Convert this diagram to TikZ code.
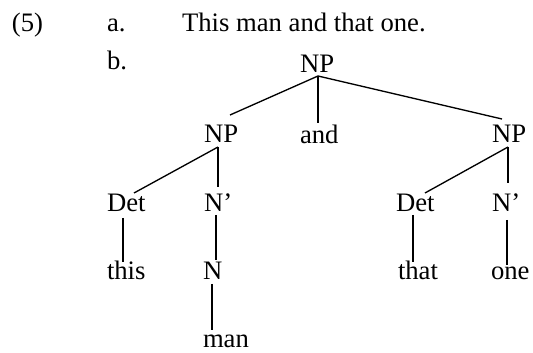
\documentclass[tikz,border=0pt]{standalone}
\usepackage{fontspec}
\setmainfont{Liberation Serif}
\usetikzlibrary{calc}
\tikzset{
  lbl/.style={anchor=base west, inner sep=0pt, outer sep=0pt, font=\fontsize{20}{24}\selectfont},
  branch/.style={line width=1pt, line cap=butt}
}
\begin{document}
\begin{tikzpicture}[x=0.75pt, y=-0.75pt]
\useasboundingbox (0,0) rectangle (533,353);
% labels
\node[lbl] (ex) at (12,32) {(5)};
\node[lbl] (la) at (107,32) {a.};
\node[lbl] (sent) at (182,32) {This man and that one.};
\node[lbl] (lb) at (107,70) {b.};
% tree
\node[lbl] (np0) at (300,73) {NP};
\node[lbl] (npl) at (204,143) {NP};
\node[lbl] (andn) at (300,144) {and};
\node[lbl] (npr) at (492,143) {NP};
\node[lbl] (detl) at (107,212) {Det};
\node[lbl] (nbl) at (204,212) {N’};
\node[lbl] (detr) at (396,212) {Det};
\node[lbl] (nbr) at (492,212) {N’};
\node[lbl] (this) at (107,280) {this};
\node[lbl] (nl) at (203,280) {N};
\node[lbl] (that) at (398,280) {that};
\node[lbl] (one) at (491,280) {one};
\node[lbl] (man) at (203,348) {man};
% branches
\draw[branch] ($(np0.base west)+(18,3)$) -- ($(npl.base west)+(26,-28)$);
\draw[branch] ($(np0.base west)+(18,3)$) -- ($(andn.base west)+(18,-21)$);
\draw[branch] ($(np0.base west)+(18,3)$) -- ($(npr.base west)+(10,-24)$);
\draw[branch] ($(npl.base west)+(14,4)$) -- ($(detl.base west)+(27,-19)$);
\draw[branch] ($(npl.base west)+(14,4)$) -- ($(nbl.base west)+(14,-25)$);
\draw[branch] ($(npr.base west)+(16,4)$) -- ($(detr.base west)+(29,-19)$);
\draw[branch] ($(npr.base west)+(16,4)$) -- ($(nbr.base west)+(16,-29)$);
\draw[branch] ($(detl.base west)+(16,6)$) -- ($(this.base west)+(16,-18)$);
\draw[branch] ($(nbl.base west)+(12,3)$) -- ($(nl.base west)+(13,-20)$);
\draw[branch] ($(detr.base west)+(17,3)$) -- ($(that.base west)+(15,-18)$);
\draw[branch] ($(nbr.base west)+(15,8)$) -- ($(one.base west)+(16,-15)$);
\draw[branch] ($(nl.base west)+(9,4)$) -- ($(man.base west)+(9,-18)$);
\end{tikzpicture}
\end{document}
